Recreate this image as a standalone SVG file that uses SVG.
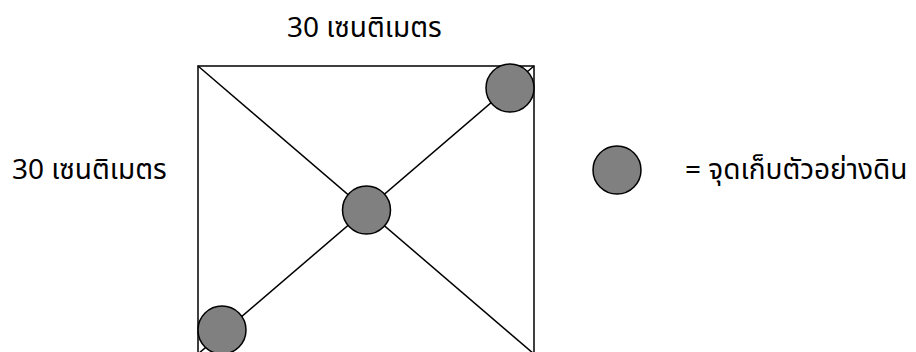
<svg xmlns="http://www.w3.org/2000/svg" width="916" height="352" viewBox="0 0 916 352">
<style>
.t{font-family:"Noto Sans","Noto Sans Thai","DejaVu Sans",sans-serif;font-size:28px;fill:#000}
.ln{stroke:#000;stroke-width:1.5;fill:none}
.pt{fill:#808080;stroke:#000;stroke-width:1.5}
</style>
<rect width="916" height="352" fill="#fff"/>
<g id="plot">
<rect class="ln" x="198" y="66" width="336" height="288"/>
</g>
<g id="connectors">
<line class="ln" x1="198" y1="66" x2="534" y2="354"/>
<line class="ln" x1="198" y1="354" x2="534" y2="66"/>
</g>
<g id="point-top-right"><circle class="pt" cx="510" cy="88" r="24"/></g>
<g id="point-center"><circle class="pt" cx="366.5" cy="210" r="24"/></g>
<g id="point-bottom-left"><circle class="pt" cx="222" cy="330" r="24"/></g>
<g id="label-top"><text class="t" x="287" y="37">30 เซนติเมตร</text></g>
<g id="label-left"><text class="t" x="12" y="179">30 เซนติเมตร</text></g>
<g id="legend">
<circle class="pt" cx="617" cy="170" r="24"/>
<text class="t" x="685" y="179">= จุดเก็บตัวอย่างดิน</text>
</g>
</svg>
